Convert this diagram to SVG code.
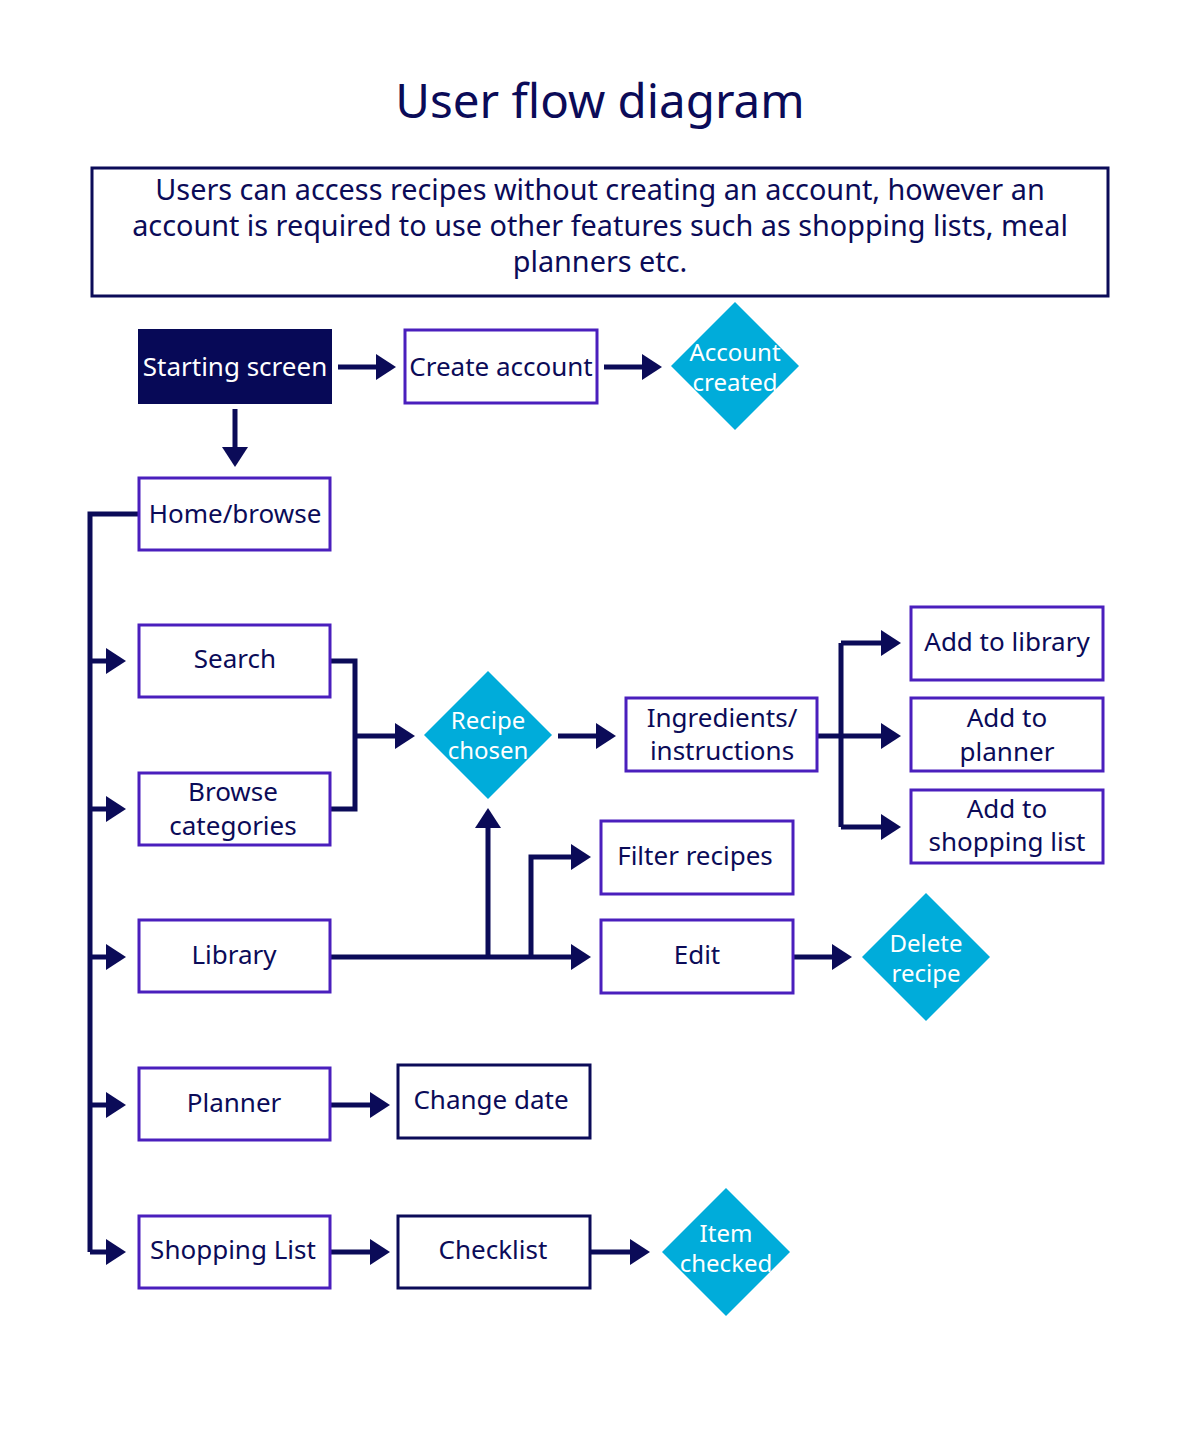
<svg xmlns="http://www.w3.org/2000/svg" width="1200" height="1449" viewBox="0 0 1200 1449">
<defs>
<style>
text{font-family:"Noto Sans","Open Sans","Liberation Sans",sans-serif;text-anchor:middle}
.t{fill:#0b0b58;font-size:26px}
.w{fill:#ffffff;font-size:24px}
.box{fill:#ffffff;stroke:#4a1fbd;stroke-width:3}
.nbox{fill:#ffffff;stroke:#0b0b58;stroke-width:3}
.dia{fill:#00acda}
.c{fill:none;stroke:#0b0b58;stroke-width:5}
.ca{fill:none;stroke:#0b0b58;stroke-width:5;marker-end:url(#ah)}
</style>
<marker id="ah" viewBox="0 0 20 26" refX="0" refY="13" markerWidth="20" markerHeight="26" markerUnits="userSpaceOnUse" orient="auto">
<path d="M0 0 L20 13 L0 26 Z" fill="#0b0b58"/>
</marker>
</defs>
<rect width="1200" height="1449" fill="#ffffff"/>
<text x="600" y="118" style="fill:#0b0b58;font-size:47.5px">User flow diagram</text>
<g id="info">
<rect x="92" y="168" width="1016" height="128" class="nbox"/>
<text class="t" x="600" y="200" style="font-size:28.8px">Users can access recipes without creating an account, however an</text>
<text class="t" x="600" y="236" style="font-size:28.8px">account is required to use other features such as shopping lists, meal</text>
<text class="t" x="600" y="272" style="font-size:28.8px">planners etc.</text>
</g>
<g id="connectors">
<path class="ca" d="M338 367 H376"/>
<path class="ca" d="M604 367 H642"/>
<path class="ca" d="M235 409 V447" />
<path class="c" d="M139 514 H90 V1252"/>
<path class="ca" d="M90 661 H106"/>
<path class="ca" d="M90 809 H106"/>
<path class="ca" d="M90 957 H106"/>
<path class="ca" d="M90 1105 H106"/>
<path class="ca" d="M90 1252 H106"/>
<path class="c" d="M330 661 H355 V809 H330"/>
<path class="ca" d="M355 736 H395"/>
<path class="ca" d="M558 736 H596"/>
<path class="c" d="M817 736 H841"/>
<path class="ca" d="M841 736 H881"/>
<path class="c" d="M841 643 V827"/>
<path class="ca" d="M841 643 H881"/>
<path class="ca" d="M841 827 H881"/>
<path class="ca" d="M330 957 H571"/>
<path class="ca" d="M488 957 V828"/>
<path class="ca" d="M531 957 V857 H571"/>
<path class="ca" d="M793 957 H832"/>
<path class="ca" d="M330 1105 H370"/>
<path class="ca" d="M330 1252 H370"/>
<path class="ca" d="M590 1252 H630"/>
</g>
<g id="starting-screen">
<rect x="138" y="329" width="194" height="75" fill="#070957"/>
<text class="w" x="235" y="376" style="font-size:26px">Starting screen</text>
</g>
<g id="create-account">
<rect x="405" y="330" width="192" height="73" class="box"/>
<text class="t" x="501" y="376">Create account</text>
</g>
<g id="account-created">
<path class="dia" d="M735 302 L799 366 L735 430 L671 366 Z"/>
<text class="w" x="735" y="361">Account</text>
<text class="w" x="735" y="391">created</text>
</g>
<g id="home-browse">
<rect x="139" y="478" width="191" height="72" class="box"/>
<text class="t" x="235" y="523">Home/browse</text>
</g>
<g id="search">
<rect x="139" y="625" width="191" height="72" class="box"/>
<text class="t" x="235" y="668">Search</text>
</g>
<g id="browse-categories">
<rect x="139" y="773" width="191" height="72" class="box"/>
<text class="t" x="233" y="801">Browse</text>
<text class="t" x="233" y="835">categories</text>
</g>
<g id="library">
<rect x="139" y="920" width="191" height="72" class="box"/>
<text class="t" x="234" y="964">Library</text>
</g>
<g id="planner">
<rect x="139" y="1068" width="191" height="72" class="box"/>
<text class="t" x="234" y="1112">Planner</text>
</g>
<g id="shopping-list">
<rect x="139" y="1216" width="191" height="72" class="box"/>
<text class="t" x="233" y="1259">Shopping List</text>
</g>
<g id="recipe-chosen">
<path class="dia" d="M488 671 L552 735 L488 799 L424 735 Z"/>
<text class="w" x="488" y="729">Recipe</text>
<text class="w" x="488" y="759">chosen</text>
</g>
<g id="ingredients">
<rect x="626" y="698" width="191" height="73" class="box"/>
<text class="t" x="722" y="727">Ingredients/</text>
<text class="t" x="722" y="760">instructions</text>
</g>
<g id="add-to-library">
<rect x="911" y="607" width="192" height="73" class="box"/>
<text class="t" x="1007" y="651">Add to library</text>
</g>
<g id="add-to-planner">
<rect x="911" y="698" width="192" height="73" class="box"/>
<text class="t" x="1007" y="727">Add to</text>
<text class="t" x="1007" y="761">planner</text>
</g>
<g id="add-to-shopping-list">
<rect x="911" y="790" width="192" height="73" class="box"/>
<text class="t" x="1007" y="818">Add to</text>
<text class="t" x="1007" y="851">shopping list</text>
</g>
<g id="filter-recipes">
<rect x="601" y="821" width="192" height="73" class="box"/>
<text class="t" x="695" y="865">Filter recipes</text>
</g>
<g id="edit">
<rect x="601" y="920" width="192" height="73" class="box"/>
<text class="t" x="697" y="964">Edit</text>
</g>
<g id="delete-recipe">
<path class="dia" d="M926 893 L990 957 L926 1021 L862 957 Z"/>
<text class="w" x="926" y="952">Delete</text>
<text class="w" x="926" y="982">recipe</text>
</g>
<g id="change-date">
<rect x="398" y="1065" width="192" height="73" class="nbox"/>
<text class="t" x="491" y="1109">Change date</text>
</g>
<g id="checklist">
<rect x="398" y="1216" width="192" height="72" class="nbox"/>
<text class="t" x="493" y="1259">Checklist</text>
</g>
<g id="item-checked">
<path class="dia" d="M726 1188 L790 1252 L726 1316 L662 1252 Z"/>
<text class="w" x="726" y="1242">Item</text>
<text class="w" x="726" y="1272">checked</text>
</g>
</svg>
